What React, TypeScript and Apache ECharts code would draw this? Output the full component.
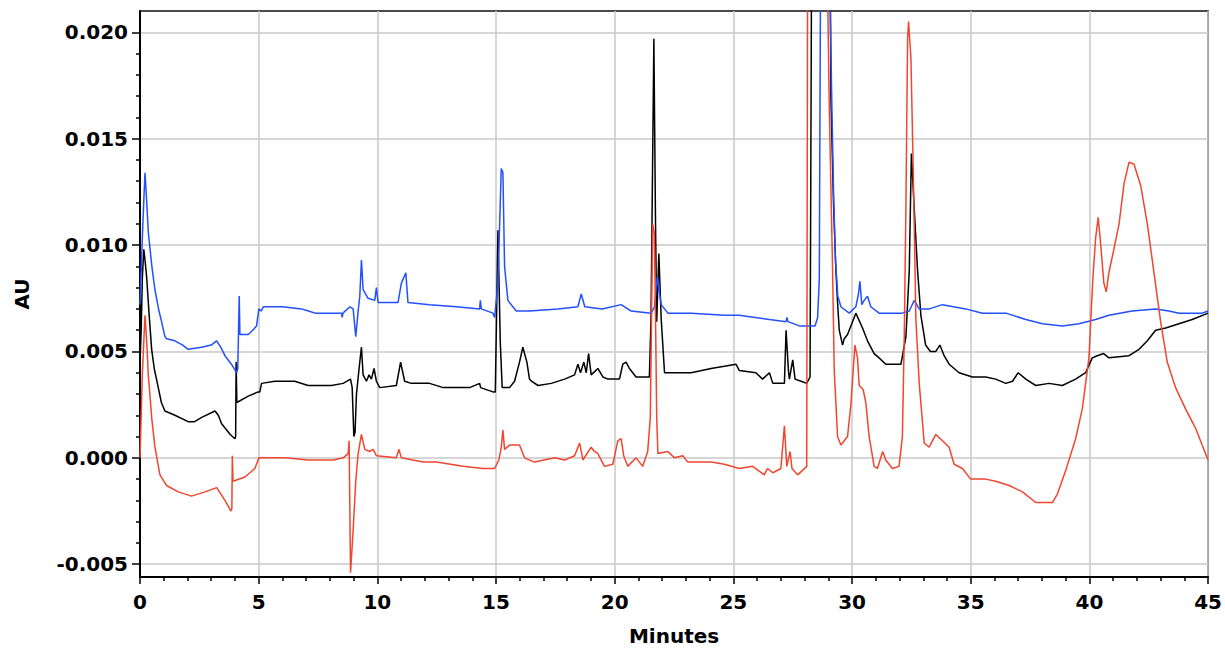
import { useEffect, useRef } from 'react';
import * as echarts from 'echarts';

// [minutes, AU]
const blueTrace: [number, number][] = [
  [0.0, 0.0072], [0.12, 0.011], [0.21, 0.0134], [0.26, 0.0125], [0.35, 0.0106], [0.5, 0.009],
  [0.63, 0.0079], [0.8, 0.0069], [0.91, 0.0064], [1.05, 0.0057], [1.12, 0.0056], [1.47, 0.0055],
  [1.8, 0.0053], [2.03, 0.0051], [2.6, 0.0052], [3.0, 0.0053], [3.23, 0.0055], [3.4, 0.0052],
  [3.58, 0.0048], [3.85, 0.0044], [4.07, 0.004], [4.12, 0.0042], [4.18, 0.0076], [4.21, 0.0058],
  [4.56, 0.0058], [4.75, 0.006], [4.91, 0.0062], [5.01, 0.007], [5.1, 0.0069], [5.2, 0.0071],
  [5.4, 0.0071], [6.0, 0.0071], [6.8, 0.007], [7.1, 0.0069], [7.37, 0.0068], [8.2, 0.0068],
  [8.49, 0.0068], [8.52, 0.0066], [8.55, 0.0068], [8.84, 0.0071], [8.98, 0.007], [9.09, 0.0057],
  [9.2, 0.007], [9.26, 0.0076], [9.33, 0.0093], [9.4, 0.0079], [9.61, 0.0075], [9.89, 0.0074],
  [9.96, 0.008], [10.03, 0.0073], [10.87, 0.0073], [11.01, 0.0082], [11.2, 0.0087], [11.29, 0.0073],
  [12.2, 0.0072], [13.33, 0.0071], [14.31, 0.007], [14.34, 0.0074], [14.38, 0.007], [14.87, 0.0068],
  [14.94, 0.0066], [15.08, 0.0082], [15.22, 0.0136], [15.29, 0.0134], [15.36, 0.009], [15.5, 0.0074],
  [15.85, 0.0069], [16.41, 0.0069], [17.6, 0.007], [18.45, 0.0071], [18.59, 0.0077], [18.74, 0.0071],
  [19.47, 0.007], [20.27, 0.0072], [20.69, 0.0069], [21.54, 0.0068], [21.68, 0.0071], [21.79, 0.0085],
  [21.96, 0.0072], [22.24, 0.0068], [23.22, 0.0068], [24.62, 0.0067], [25.25, 0.0067], [26.52, 0.0065],
  [27.22, 0.0064], [27.26, 0.0066], [27.3, 0.0064], [27.78, 0.0062], [28.44, 0.0062], [28.55, 0.0066],
  [28.62, 0.0084], [28.68, 0.025], [28.85, 0.04], [29.05, 0.023], [29.15, 0.0165], [29.22, 0.0125],
  [29.3, 0.0093], [29.4, 0.0076], [29.53, 0.0071], [29.88, 0.0068], [30.16, 0.0071], [30.27, 0.0077],
  [30.33, 0.0083], [30.41, 0.0072], [30.51, 0.0074], [30.65, 0.0076], [30.79, 0.0071], [31.14, 0.0068],
  [32.12, 0.0068], [32.41, 0.0069], [32.62, 0.0074], [32.83, 0.007], [33.25, 0.007], [33.81, 0.0072],
  [34.79, 0.007], [35.49, 0.0068], [36.48, 0.0068], [37.32, 0.0065], [38.02, 0.0063], [38.86, 0.0062],
  [39.56, 0.0063], [40.26, 0.0065], [40.82, 0.0067], [41.8, 0.0069], [42.79, 0.007], [43.35, 0.0069],
  [43.77, 0.0068], [44.75, 0.0068], [45.0, 0.0069],
];

const blackTrace: [number, number][] = [
  [0.0, 0.0044], [0.05, 0.006], [0.1, 0.0085], [0.16, 0.0098], [0.22, 0.0092], [0.28, 0.0085],
  [0.38, 0.0068], [0.49, 0.0051], [0.6, 0.0042], [0.77, 0.0033], [0.9, 0.0026], [1.05, 0.0022],
  [1.47, 0.002], [2.03, 0.0017], [2.3, 0.0017], [2.6, 0.0019], [3.16, 0.0022], [3.3, 0.002],
  [3.44, 0.0016], [3.8, 0.0011], [4.0, 0.0009], [4.03, 0.001], [4.05, 0.0045], [4.08, 0.0026],
  [4.56, 0.0029], [4.98, 0.0031], [5.05, 0.0031], [5.12, 0.0035], [5.68, 0.0036], [6.52, 0.0036],
  [7.08, 0.0034], [8.07, 0.0034], [8.56, 0.0035], [8.87, 0.0037], [8.94, 0.0033], [9.01, 0.001],
  [9.06, 0.0012], [9.12, 0.003], [9.23, 0.0042], [9.33, 0.0052], [9.4, 0.0039], [9.54, 0.0036],
  [9.65, 0.0039], [9.75, 0.0037], [9.86, 0.0042], [9.96, 0.0036], [10.1, 0.0033], [10.8, 0.0034],
  [10.98, 0.0045], [11.15, 0.0036], [11.43, 0.0035], [12.2, 0.0035], [12.77, 0.0033], [13.89, 0.0033],
  [14.31, 0.0035], [14.35, 0.0033], [14.87, 0.0031], [14.97, 0.0031], [15.08, 0.0107], [15.18, 0.0054],
  [15.26, 0.0033], [15.57, 0.0033], [15.78, 0.0036], [15.99, 0.0045], [16.13, 0.0052], [16.3, 0.0045],
  [16.41, 0.0037], [16.49, 0.0036], [16.77, 0.0034], [17.33, 0.0035], [17.89, 0.0037], [18.31, 0.0039],
  [18.45, 0.0044], [18.56, 0.004], [18.7, 0.0045], [18.8, 0.004], [18.9, 0.0049], [19.01, 0.0039],
  [19.29, 0.0042], [19.5, 0.0038], [19.71, 0.0037], [20.2, 0.0037], [20.34, 0.0044], [20.48, 0.0045],
  [20.62, 0.0042], [20.9, 0.0038], [21.46, 0.0038], [21.53, 0.0065], [21.65, 0.0197], [21.72, 0.011],
  [21.77, 0.0064], [21.86, 0.0096], [21.96, 0.0065], [22.1, 0.004], [22.38, 0.004], [23.22, 0.004],
  [24.06, 0.0042], [24.62, 0.0043], [25.11, 0.0044], [25.25, 0.0041], [25.95, 0.004], [26.23, 0.0037],
  [26.52, 0.004], [26.66, 0.0035], [27.15, 0.0035], [27.22, 0.006], [27.32, 0.0041], [27.36, 0.0037],
  [27.5, 0.0046], [27.6, 0.0037], [27.85, 0.0036], [28.09, 0.0035], [28.23, 0.0038], [28.3, 0.025],
  [28.7, 0.045], [29.08, 0.023], [29.11, 0.0169], [29.22, 0.0119], [29.32, 0.0088], [29.39, 0.0073],
  [29.46, 0.006], [29.6, 0.0053], [29.67, 0.0056], [29.81, 0.0058], [30.16, 0.0068], [30.44, 0.0061],
  [30.65, 0.0055], [30.93, 0.0049], [31.14, 0.0047], [31.42, 0.0044], [31.7, 0.0044], [32.06, 0.0044],
  [32.27, 0.0057], [32.41, 0.0088], [32.5, 0.0143], [32.62, 0.0117], [32.76, 0.0088], [32.9, 0.0067],
  [33.1, 0.0053], [33.3, 0.005], [33.53, 0.005], [33.7, 0.0053], [33.88, 0.0048], [34.09, 0.0044],
  [34.51, 0.004], [35.07, 0.0038], [35.63, 0.0038], [36.05, 0.0037], [36.48, 0.0035], [36.76, 0.0036],
  [37.0, 0.004], [37.32, 0.0037], [37.74, 0.0034], [38.3, 0.0035], [38.86, 0.0034], [39.42, 0.0037],
  [39.84, 0.004], [40.12, 0.0047], [40.33, 0.0048], [40.6, 0.0049], [40.82, 0.0047], [41.67, 0.0048],
  [42.09, 0.0051], [42.44, 0.0055], [42.79, 0.006], [43.21, 0.0061], [43.77, 0.0063], [44.33, 0.0065],
  [45.0, 0.0068],
];

const redTrace: [number, number][] = [
  [0.0, 0.0], [0.1, 0.004], [0.21, 0.0067], [0.28, 0.0055], [0.35, 0.0039], [0.5, 0.0018],
  [0.63, 0.0005], [0.84, -0.0008], [1.12, -0.0013], [1.61, -0.0016], [2.17, -0.0018], [2.74, -0.0016],
  [3.23, -0.0014], [3.58, -0.002], [3.83, -0.0025], [3.87, -0.0024], [3.89, 0.0001], [3.92, -0.0011],
  [4.42, -0.0009], [4.84, -0.0005], [5.01, 0.0], [6.1, 0.0], [7.08, -0.0001], [8.14, -0.0001],
  [8.56, 0.0], [8.77, 0.0002], [8.81, 0.0008], [8.87, -0.0054], [8.98, -0.0034], [9.09, -0.0011],
  [9.19, 0.0002], [9.33, 0.0011], [9.47, 0.0004], [9.68, 0.0003], [9.82, 0.0004], [9.96, 0.0001],
  [10.8, 0.0], [10.91, 0.0004], [11.01, 0.0], [11.92, -0.0002], [12.49, -0.0002], [13.61, -0.0004],
  [14.45, -0.0005], [14.94, -0.0005], [15.12, -0.0001], [15.22, 0.0005], [15.29, 0.0013], [15.36, 0.0004],
  [15.57, 0.0006], [15.99, 0.0006], [16.2, 0.0], [16.62, -0.0002], [17.47, 0.0], [17.89, -0.0001],
  [18.31, 0.0001], [18.52, 0.0007], [18.66, -0.0001], [19.01, 0.0005], [19.15, 0.0003], [19.29, 0.0002],
  [19.57, -0.0004], [19.92, -0.0003], [20.13, 0.0008], [20.27, 0.0009], [20.38, 0.0001], [20.55, -0.0004],
  [20.9, 0.0], [21.18, -0.0004], [21.39, 0.0003], [21.5, 0.0019], [21.6, 0.011], [21.67, 0.0105],
  [21.72, 0.0066], [21.77, 0.0019], [21.82, 0.0002], [22.24, 0.0003], [22.52, 0.0], [22.87, 0.0001],
  [23.08, -0.0002], [24.06, -0.0002], [24.62, -0.0003], [25.25, -0.0005], [25.81, -0.0004], [26.3, -0.0008],
  [26.44, -0.0005], [26.66, -0.0007], [27.0, -0.0005], [27.15, 0.0015], [27.25, -0.0004], [27.39, 0.0003],
  [27.47, -0.0005], [27.71, -0.0008], [28.09, -0.0004], [28.13, 0.025], [28.5, 0.05], [28.93, 0.025],
  [29.04, 0.0165], [29.18, 0.0088], [29.25, 0.0041], [29.39, 0.001], [29.53, 0.0006], [29.81, 0.001],
  [29.95, 0.0025], [30.12, 0.0053], [30.23, 0.0047], [30.3, 0.0034], [30.47, 0.0032], [30.58, 0.0026],
  [30.72, 0.001], [30.93, -0.0004], [31.07, -0.0005], [31.29, 0.0003], [31.42, -0.0001], [31.7, -0.0005],
  [31.98, -0.0004], [32.12, 0.001], [32.2, 0.0057], [32.27, 0.0119], [32.34, 0.0197], [32.38, 0.0205],
  [32.48, 0.0188], [32.58, 0.0134], [32.69, 0.0065], [32.83, 0.0035], [33.04, 0.0007], [33.25, 0.0005],
  [33.53, 0.0011], [33.81, 0.0008], [34.09, 0.0005], [34.3, -0.0003], [34.65, -0.0005], [35.0, -0.001],
  [35.63, -0.001], [36.05, -0.0011], [36.62, -0.0013], [37.18, -0.0016], [37.74, -0.0021], [38.44, -0.0021],
  [38.65, -0.0017], [39.0, -0.0006], [39.42, 0.0009], [39.7, 0.0023], [39.98, 0.0047], [40.15, 0.0085],
  [40.26, 0.0103], [40.37, 0.0113], [40.47, 0.0101], [40.61, 0.0082], [40.71, 0.0078], [40.82, 0.0087],
  [41.03, 0.0098], [41.25, 0.011], [41.46, 0.0129], [41.67, 0.0139], [41.88, 0.0138], [42.16, 0.0128],
  [42.44, 0.011], [42.72, 0.0087], [43.0, 0.0064], [43.28, 0.0045], [43.63, 0.0033], [44.05, 0.0023],
  [44.47, 0.0014], [44.75, 0.0006], [45.0, -0.0001],
];

const yTicks = [-0.005, 0, 0.005, 0.01, 0.015, 0.02];

const FONT = 'DejaVu Sans';

export default function App() {
  const chartRef = useRef<HTMLDivElement>(null);

  useEffect(() => {
    if (!chartRef.current) return;
    const chart = echarts.init(chartRef.current, undefined, { renderer: 'svg' });

    const trace = (data: [number, number][], color: string) => ({
      type: 'line' as const,
      data,
      symbol: 'none',
      clip: true,
      lineStyle: { color, width: 1.5 },
    });

    const labelStyle = {
      color: '#000',
      fontFamily: FONT,
      fontWeight: 'bold' as const,
      fontSize: 20,
    };

    chart.setOption({
      animation: false,
      grid: {
        left: 140,
        right: 16,
        top: 11,
        bottom: 69,
        show: true,
        borderColor: '#111',
        borderWidth: 1.5,
      },
      xAxis: {
        type: 'value',
        min: 0,
        max: 45,
        interval: 5,
        name: 'Minutes',
        nameLocation: 'middle',
        nameGap: 49,
        nameTextStyle: labelStyle,
        axisLine: { onZero: false, lineStyle: { color: '#000', width: 2 } },
        axisTick: { length: 7, lineStyle: { color: '#000', width: 1.5 } },
        minorTick: { show: true, splitNumber: 5, length: 4, lineStyle: { color: '#000', width: 1.5 } },
        axisLabel: { ...labelStyle, margin: 15 },
        splitLine: { lineStyle: { color: '#c8c8c8', width: 1.5 } },
      },
      yAxis: {
        type: 'value',
        min: -0.0056,
        max: 0.021,
        name: 'AU',
        nameLocation: 'middle',
        nameRotate: 90,
        nameGap: 108,
        nameTextStyle: labelStyle,
        axisLine: { show: true, onZero: false, lineStyle: { color: '#000', width: 2 } },
        axisTick: { show: true, length: 8, customValues: yTicks, lineStyle: { color: '#000', width: 1.5 } },
        minorTick: { show: true, splitNumber: 5, length: 4, lineStyle: { color: '#000', width: 1.5 } },
        axisLabel: {
          ...labelStyle,
          margin: 12,
          customValues: yTicks,
          formatter: (v: number) => v.toFixed(3),
        },
        splitLine: { lineStyle: { color: '#c8c8c8', width: 1.5 } },
      },
      series: [
        trace(blackTrace, '#000000'),
        trace(blueTrace, '#2350ff'),
        trace(redTrace, '#f04630'),
      ],
    });

    return () => chart.dispose();
  }, []);

  return (
    <div
      ref={chartRef}
      style={{ position: 'fixed', left: 0, top: 0, width: 1225, height: 651, background: '#fff' }}
    />
  );
}
